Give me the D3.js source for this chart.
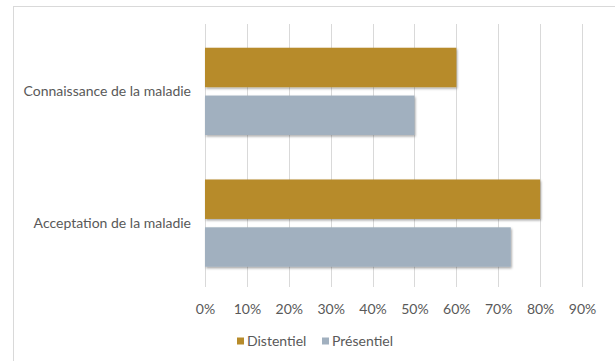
<!DOCTYPE html>
<html>
<head>
<meta charset="utf-8">
<script src="https://cdn.jsdelivr.net/npm/d3@7"></script>
<style>
  html, body { margin: 0; padding: 0; background: #fff; }
  svg text { font-family: Lato, "Open Sans", sans-serif; fill: #595959; }
</style>
</head>
<body>
<svg id="chart" width="615" height="361"></svg>
<script>
// Categories, series and ticks
const categories = ["Connaissance de la maladie", "Acceptation de la maladie"];
const seriesNames = ["Distentiel", "Présentiel"];
const distentiel = [0.60, 0.80];
const presentiel = [0.50, 0.73];
const tickValues = [0, 0.1, 0.2, 0.3, 0.4, 0.5, 0.6, 0.7, 0.8, 0.9];
const colors = ["#B78B2A", "#A1B0BF"];

const svg = d3.select("#chart");
const W = 615, H = 361;

// Chart frame
svg.append("rect")
  .attr("x", 13.5).attr("y", 6.5)
  .attr("width", W).attr("height", H)
  .attr("fill", "#fff").attr("stroke", "#d9d9d9");

const plot = { left: 205, right: 582, top: 24, bottom: 287 };

const x = d3.scaleLinear().domain([0, 0.9]).range([plot.left, plot.right]);
const y = d3.scaleBand().domain(categories).range([plot.top + 1.5, plot.bottom + 2]).paddingInner(0).paddingOuter(0);
const y1 = d3.scaleBand().domain(seriesNames).range([0, y.bandwidth()]).paddingInner(0.175).paddingOuter(0.465);

// Drop shadow for bars
const defs = svg.append("defs");
const f = defs.append("filter").attr("id", "shadow").attr("x", "-5%").attr("y", "-20%").attr("width", "115%").attr("height", "150%");
f.append("feDropShadow").attr("dx", 1).attr("dy", 1.5).attr("stdDeviation", 1).attr("flood-color", "#000").attr("flood-opacity", 0.35);

// Vertical gridlines
svg.append("g")
  .selectAll("line")
  .data(tickValues)
  .join("line")
  .attr("x1", d => Math.round(x(d)) + 0.5).attr("x2", d => Math.round(x(d)) + 0.5)
  .attr("y1", plot.top).attr("y2", plot.bottom)
  .attr("stroke", "#d9d9d9").attr("stroke-width", 1);

// Bars
const rows = categories.map((c, i) => ({ cat: c, vals: [distentiel[i], presentiel[i]] }));
const groups = svg.append("g").selectAll("g")
  .data(rows).join("g")
  .attr("transform", d => `translate(0,${y(d.cat)})`);

groups.selectAll("rect")
  .data(d => d.vals.map((v, j) => ({ name: seriesNames[j], v, j })))
  .join("rect")
  .attr("x", x(0))
  .attr("y", d => y1(d.name))
  .attr("width", d => x(d.v) - x(0))
  .attr("height", y1.bandwidth())
  .attr("fill", d => colors[d.j])
  .attr("filter", "url(#shadow)");

// X axis tick labels
const xAxis = d3.axisBottom(x).tickValues(tickValues).tickFormat(d3.format(".0%")).tickSize(0).tickPadding(0);
const gx = svg.append("g").attr("transform", `translate(0,${plot.bottom + 23})`).call(xAxis);
gx.select(".domain").remove();
gx.selectAll("text").attr("font-size", 14).attr("dy", "0.32em").attr("font-family", null);

// Category labels
const yAxis = d3.axisLeft(y).tickSize(0).tickPadding(14);
const gy = svg.append("g").attr("transform", `translate(${plot.left},0)`).call(yAxis);
gy.select(".domain").remove();
gy.selectAll("text").attr("font-size", 14).attr("font-family", null);

// Legend
const legend = svg.append("g").attr("transform", "translate(237,341)");
const legendX = [0, 85];
seriesNames.forEach((name, i) => {
  const g = legend.append("g").attr("transform", `translate(${legendX[i]},0)`);
  g.append("rect").attr("x", 0).attr("y", -3.5).attr("width", 7).attr("height", 7).attr("fill", colors[i]);
  g.append("text").attr("x", 10).attr("y", 0).attr("dy", "0.35em").attr("font-size", 14).text(name);
});
</script>
</body>
</html>
